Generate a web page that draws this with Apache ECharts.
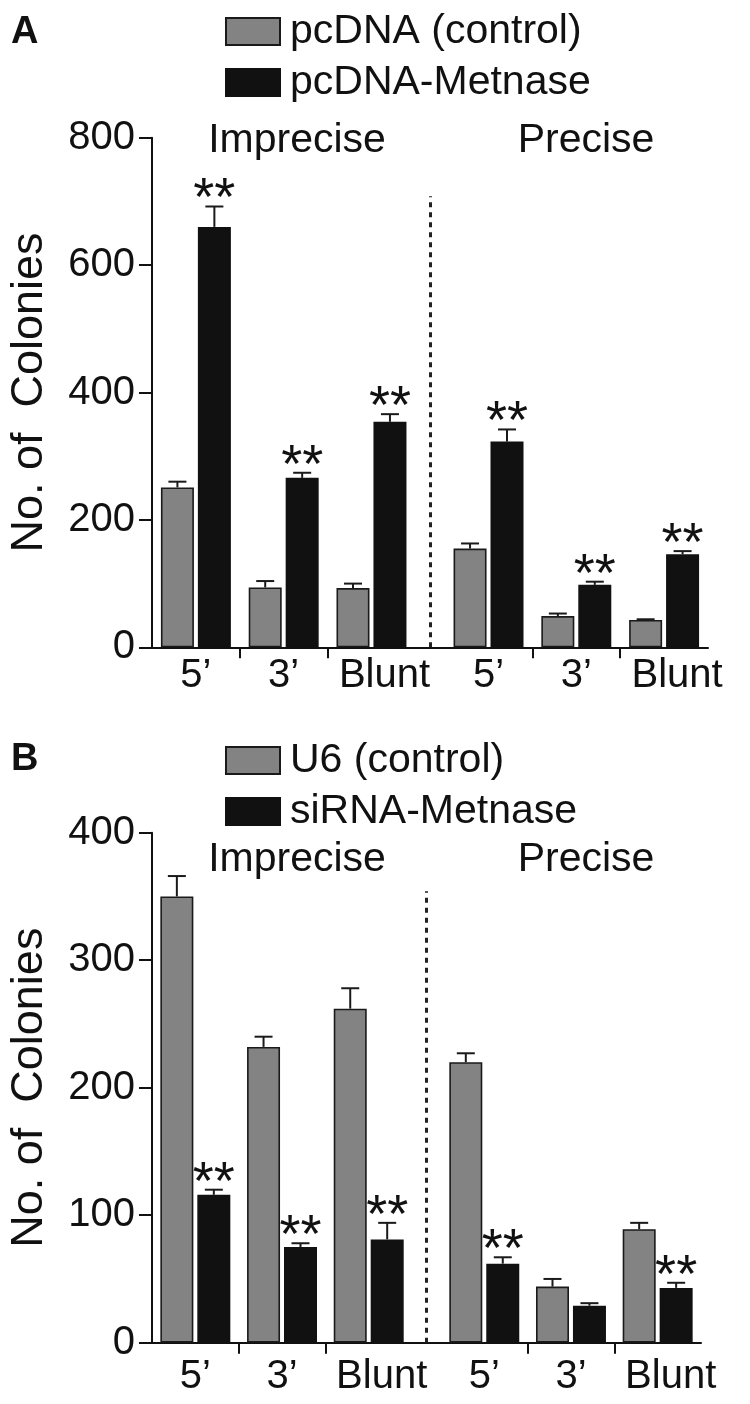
<!DOCTYPE html>
<html>
<head>
<meta charset="utf-8">
<script src="https://cdn.jsdelivr.net/npm/echarts@6/dist/echarts.min.js"></script>
<style>
html,body{margin:0;padding:0;background:#fff;}
#chart{width:750px;height:1404px;}
</style>
</head>
<body>
<div id="chart"></div>
<script>
// ---------- data ----------
const endLabels = ['5\u2019', '3\u2019', 'Blunt', '5\u2019', '3\u2019', 'Blunt'];
const groupLabels = ['Imprecise', 'Precise'];

const seriesNamesA = ['pcDNA (control)', 'pcDNA-Metnase'];
const controlA = [251, 94, 93, 155, 49, 43];
const controlErrA = [9, 10, 7, 8, 4, 1];
const metnaseA = [660, 266, 354, 323, 98, 146];
const metnaseErrA = [32, 8, 12, 19, 5, 5];
const sigA = ['**', '**', '**', '**', '**', '**'];
const yTicksA = [0, 200, 400, 600, 800];

const seriesNamesB = ['U6 (control)', 'siRNA-Metnase'];
const controlB = [350, 232, 262, 220, 44, 89];
const controlErrB = [16, 8, 16, 7, 6, 5];
const metnaseB = [116, 75, 81, 62, 29, 43];
const metnaseErrB = [4, 3, 13, 5, 2, 4];
const sigB = ['**', '**', '**', '**', '', '**'];
const yTicksB = [0, 100, 200, 300, 400];

const yTitle = 'No. of  Colonies';
const panelLetters = ['A', 'B'];

// ---------- layout (not data) ----------
const FONT = '"Liberation Sans", Arial, Helvetica, sans-serif';
const INK = '#111111';
const GRAY = '#838383';
const POINTS = 39;                       // fine slots along x
const catPos = [3, 9, 15, 23, 29, 35];   // category centres
const tickPos = [6, 12, 26, 32];         // category boundaries
const dividerPos = 19;
const BAR_W = 33, BAR_GAP = 0.12;
const OFFSET = BAR_W * (1 + BAR_GAP) / 2;
const CAP = 9;

const slotNames = Array.from({length: POINTS}, (_, k) => 'p' + k);
const labelBySlot = {};
catPos.forEach((p, i) => { labelBySlot['p' + p] = endLabels[i]; });

function spread(values) {
  const arr = Array(POINTS).fill('-');
  catPos.forEach((p, i) => { arr[p] = values[i]; });
  return arr;
}
function errData(values, errs, side) {
  return values.map((v, i) => [catPos[i], v, errs[i], side]);
}
function sigData(values, errs, sig) {
  const out = [];
  values.forEach((v, i) => { if (sig[i]) out.push([catPos[i], v + errs[i]]); });
  return out;
}

function renderErr(params, api) {
  const idx = api.value(0), v = api.value(1), e = api.value(2), side = api.value(3);
  const base = api.coord([idx, v]);
  const top = api.coord([idx, v + e]);
  const x = base[0] + side * OFFSET;
  const st = {stroke: '#1a1a1a', lineWidth: 2};
  return {type: 'group', children: [
    {type: 'line', shape: {x1: x, y1: base[1], x2: x, y2: top[1]}, style: st},
    {type: 'line', shape: {x1: x - CAP, y1: top[1], x2: x + CAP, y2: top[1]}, style: st}
  ]};
}
function renderSig(params, api) {
  const p = api.coord([api.value(0), api.value(1)]);
  return {type: 'text', x: p[0] + OFFSET, y: p[1] - 6,
    style: {text: '**', font: '54px ' + FONT, fill: INK, align: 'center', verticalAlign: 'middle'}};
}

function makeX(gridIndex, margin) {
  return {
    type: 'category', gridIndex, data: slotNames, boundaryGap: false,
    axisLine: {lineStyle: {color: INK, width: 2}},
    axisTick: {length: 11, lineStyle: {color: INK, width: 2},
      interval: (i) => tickPos.indexOf(i) >= 0},
    axisLabel: {interval: (i) => catPos.indexOf(i) >= 0, margin: margin,
      formatter: (val) => {
        const t = labelBySlot[val] || '';
        return t === 'Blunt' ? '{b|' + t + '}' : t;
      },
      rich: {b: {padding: [0, 0, 0, 26], fontSize: 40, color: INK, fontFamily: FONT}},
      fontSize: 40, color: INK, fontFamily: FONT},
    splitLine: {show: false}
  };
}
function makeY(gridIndex, ticks) {
  return {
    type: 'value', gridIndex, min: ticks[0], max: ticks[ticks.length - 1],
    interval: ticks[1] - ticks[0],
    name: yTitle, nameLocation: 'middle', nameGap: 100, nameRotate: 90,
    nameTextStyle: {fontSize: 45, color: INK, fontFamily: FONT},
    axisLine: {show: true, lineStyle: {color: INK, width: 2}},
    axisTick: {show: true, length: 13, lineStyle: {color: INK, width: 2}},
    axisLabel: {margin: 17, fontSize: 40, color: INK, fontFamily: FONT},
    splitLine: {show: false}
  };
}
function makeSeries(k, names, ctrl, ctrlErr, met, metErr, sig, ticks) {
  const maxV = ticks[ticks.length - 1];
  return [
    {name: names[0], type: 'bar', xAxisIndex: k, yAxisIndex: k, data: spread(ctrl),
      barWidth: BAR_W, barGap: (BAR_GAP * 100) + '%',
      itemStyle: {color: GRAY, borderColor: '#1a1a1a', borderWidth: 1.6}},
    {name: names[1], type: 'bar', xAxisIndex: k, yAxisIndex: k, data: spread(met),
      barWidth: BAR_W, barGap: (BAR_GAP * 100) + '%',
      itemStyle: {color: INK, borderColor: '#111', borderWidth: 1.6}},
    {type: 'custom', xAxisIndex: k, yAxisIndex: k, renderItem: renderErr, z: 5,
      data: errData(ctrl, ctrlErr, -1).concat(errData(met, metErr, 1)),
      markLine: {symbol: 'none', silent: true, label: {show: false},
        lineStyle: {type: [5, 5], width: 3, color: '#222'},
        data: [[{coord: [dividerPos, 0]}, {coord: [dividerPos, maxV * 0.885]}]]}},
    {type: 'custom', xAxisIndex: k, yAxisIndex: k, renderItem: renderSig, z: 6,
      data: sigData(met, metErr, sig)}
  ];
}

function legendFor(names, top) {
  return {data: names, orient: 'vertical', left: 220, top: top, icon: 'rect',
    itemWidth: 54, itemHeight: 27, itemGap: 10, selectedMode: false,
    textStyle: {fontSize: 41, lineHeight: 40, color: INK, fontFamily: FONT, padding: [0, 0, 0, 5]}};
}
function txt(text, x, y, size, weight, align) {
  return {type: 'text', x: x, y: y, silent: true,
    style: {text: text, font: (weight || 'normal') + ' ' + size + 'px ' + FONT,
      fill: INK, align: align || 'center', verticalAlign: 'middle'}};
}

const chart = echarts.init(document.getElementById('chart'), null, {renderer: 'canvas'});
chart.setOption({
  animation: false,
  backgroundColor: '#fff',
  grid: [
    {left: 152, right: 42, top: 137.7, height: 509.6, outerBoundsMode: 'none'},
    {left: 152, right: 49, top: 832.7, height: 510, outerBoundsMode: 'none'}
  ],
  xAxis: [makeX(0, 9), makeX(1, 14)],
  yAxis: [makeY(0, yTicksA), makeY(1, yTicksB)],
  legend: [legendFor(seriesNamesA, 6), legendFor(seriesNamesB, 735)],
  series: [].concat(
    makeSeries(0, seriesNamesA, controlA, controlErrA, metnaseA, metnaseErrA, sigA, yTicksA),
    makeSeries(1, seriesNamesB, controlB, controlErrB, metnaseB, metnaseErrB, sigB, yTicksB)
  ),
  graphic: [
    txt(panelLetters[0], 11, 33, 38, 'bold', 'left'),
    txt(panelLetters[1], 11, 760, 38, 'bold', 'left'),
    txt(groupLabels[0], 297, 141, 41),
    txt(groupLabels[1], 586, 141, 41),
    txt(groupLabels[0], 297, 860, 41),
    txt(groupLabels[1], 586, 860, 41)
  ]
});
</script>
</body>
</html>
